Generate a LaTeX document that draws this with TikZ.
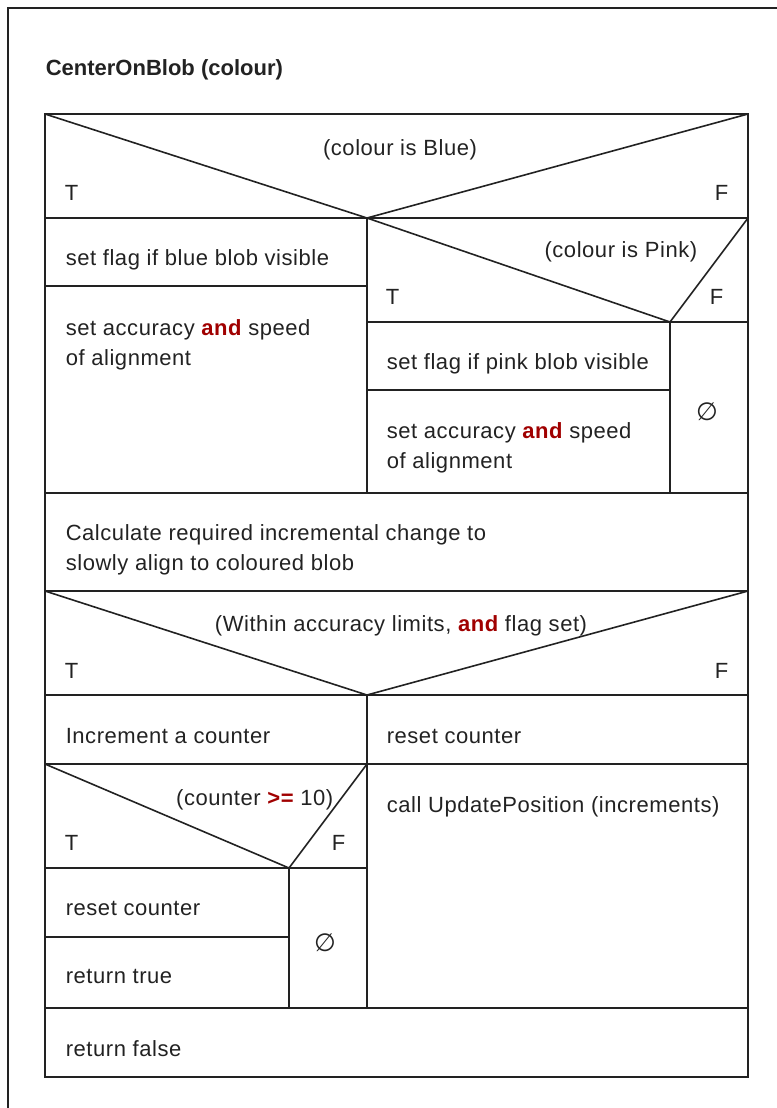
\documentclass[tikz,border=0pt]{standalone}
\usepackage{fontspec}
\setmainfont{Liberation Sans}[LetterSpace=2.5]
\newfontfamily\titlefont{Liberation Sans}[LetterSpace=0]
\newfontfamily\symfont{DejaVu Sans}
\definecolor{kwred}{HTML}{A00000}
\definecolor{ink}{HTML}{222222}
\newcommand{\kwd}[1]{{\bfseries\color{kwred}#1}}
\begin{document}
\begin{tikzpicture}[x=1bp,y=-1bp,
  line width=1.6bp, draw=ink,
  lbl/.style={anchor=base west, inner sep=0pt, text=ink,
    font=\fontsize{22bp}{30bp}\selectfont},
  lblc/.style={lbl, anchor=base},
  lble/.style={lbl, anchor=base east},
  ttl/.style={lbl, font=\titlefont\fontsize{22bp}{30bp}\selectfont\bfseries},
  empty/.style={inner sep=0pt, text=ink, font=\symfont\fontsize{25bp}{28bp}\selectfont}]
\useasboundingbox (0,0) rectangle (777,1108);

% page frame
\draw (8,1108) -- (8,8) -- (777,8);

\node[ttl] (title) at (45,75) {CenterOnBlob (colour)};

% outline and full-width dividers
\draw (45,114) rectangle (748,1077);
\draw (45,218) -- (748,218);
\draw (45,493) -- (748,493);
\draw (45,591) -- (748,591);
\draw (45,695) -- (748,695);
\draw (45,764) -- (748,764);
\draw (45,1008) -- (748,1008);

% decision: colour is Blue
\draw (45,114) -- (367,218) -- (748,114);
\node[lblc] (c1) at (400,155) {(colour is Blue)};
\node[lbl] (c1t) at (64,200) {T};
\node[lble] (c1f) at (729,200) {F};

% blue branch
\draw (367,218) -- (367,493);
\draw (45,286) -- (367,286);
\node[lbl] (b1) at (65,265) {set flag if blue blob visible};
\node[lbl] (b2) at (65,335) {set accuracy \kwd{and} speed};
\node[lbl] (b3) at (65,365) {of alignment};

% decision: colour is Pink
\draw (367,218) -- (670,322) -- (748,218);
\draw (367,322) -- (748,322);
\draw (670,322) -- (670,493);
\draw (367,390) -- (670,390);
\node[lble] (c2) at (698,257) {(colour is Pink)};
\node[lbl] (c2t) at (385,304) {T};
\node[lble] (c2f) at (724,304) {F};
\node[lbl] (p1) at (386,369) {set flag if pink blob visible};
\node[lbl] (p2) at (386,438) {set accuracy \kwd{and} speed};
\node[lbl] (p3) at (386,468) {of alignment};
\node[empty] (e1) at (707,412) {∅};

% incremental change
\node[lbl] (i1) at (65,540) {Calculate required incremental change to};
\node[lbl] (i2) at (65,570) {slowly align to coloured blob};

% decision: within limits
\draw (45,591) -- (367,695) -- (748,591);
\node[lblc] (c3) at (401,631) {(Within accuracy limits, \kwd{and} flag set)};
\node[lbl] (c3t) at (64,678) {T};
\node[lble] (c3f) at (729,678) {F};

\draw (367,695) -- (367,1008);
\node[lbl] (k1) at (65,743) {Increment a counter};
\node[lbl] (k2) at (386,743) {reset counter};
\node[lbl] (k3) at (386,812) {call UpdatePosition (increments)};

% decision: counter >= 10
\draw (45,764) -- (289,868) -- (367,764);
\draw (45,868) -- (367,868);
\draw (289,868) -- (289,1008);
\draw (45,937) -- (289,937);
\node[lble] (c4) at (334,805) {(counter \kwd{>=} 10)};
\node[lbl] (c4t) at (64,850) {T};
\node[lble] (c4f) at (346,850) {F};
\node[lbl] (r1) at (65,915) {reset counter};
\node[lbl] (r2) at (65,983) {return true};
\node[empty] (e2) at (325,943) {∅};

\node[lbl] (rf) at (65,1056) {return false};
\end{tikzpicture}
\end{document}
